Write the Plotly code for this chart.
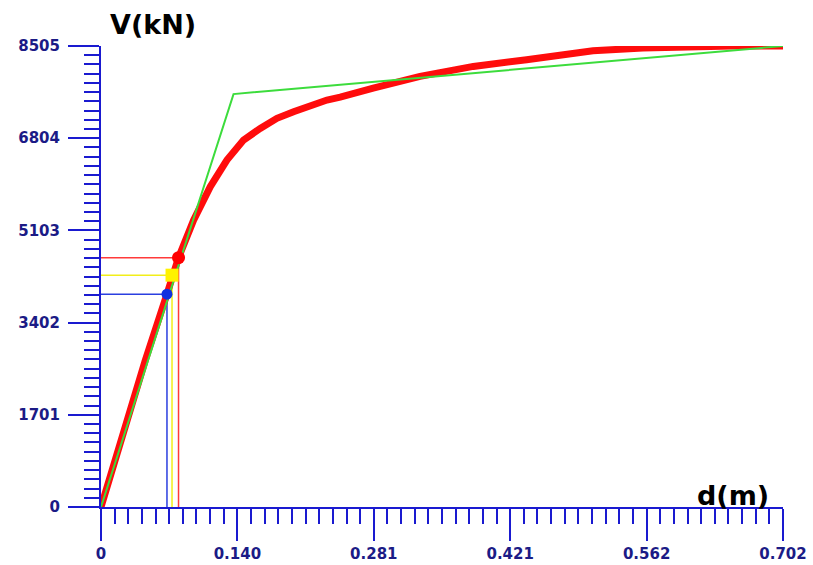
import plotly.graph_objects as go

# Pushover (capacity) curve: displacement d (m) vs base shear V (kN)
curve_d = [0.0, 0.0281, 0.0456, 0.0679, 0.0798, 0.0953, 0.1124, 0.1296, 0.1467,
           0.1639, 0.1811, 0.1982, 0.2154, 0.2326, 0.2462, 0.2668, 0.2802,
           0.3284, 0.3832, 0.4381, 0.4930, 0.5064, 0.5578, 0.6093, 0.6500, 0.702]
curve_v = [0, 1724, 2708, 3926, 4600, 5292, 5907, 6400, 6769,
           6985, 7170, 7292, 7416, 7508, 7560, 7670, 7729,
           7944, 8128, 8252, 8376, 8418, 8468, 8496, 8505, 8505]

# Bilinear idealisation
bilin_d = [0.0, 0.1364, 0.702]
bilin_v = [0, 7618, 8505]

# Reference points (blue, yellow, red)
pt_names = ["blue", "yellow", "red"]
pt_d = [0.0679, 0.0731, 0.0798]
pt_v = [3926, 4277, 4600]

# Axis ticks
y_ticks = [0, 1701, 3402, 5103, 6804, 8505]
y_labels = ["0", "1701", "3402", "5103", "6804", "8505"]
x_ticks = [0.0, 0.1404, 0.2808, 0.4212, 0.5616, 0.702]
x_labels = ["0", "0.140", "0.281", "0.421", "0.562", "0.702"]

guide_colors = {"blue": "#2b3fe0", "yellow": "#f2ee1a", "red": "#ff3a3a"}
dot_colors = {"blue": "#1030e0", "yellow": "#fff200", "red": "#ff0000"}
dot_sizes = {"blue": 11, "yellow": 13, "red": 13}

fig = go.Figure()

# guide lines from the axes to each reference point
for name, d, v in zip(pt_names, pt_d, pt_v):
    fig.add_trace(go.Scatter(x=[0, d, d], y=[v, v, 0], mode="lines",
                             line=dict(color=guide_colors[name], width=1.5),
                             hoverinfo="skip", showlegend=False))

fig.add_trace(go.Scatter(x=curve_d, y=curve_v, mode="lines",
                         line=dict(color="#ff0c0c", width=7),
                         showlegend=False))
fig.add_trace(go.Scatter(x=bilin_d, y=bilin_v, mode="lines",
                         line=dict(color="#3cdc3c", width=2),
                         showlegend=False))

for name, d, v in zip(pt_names, pt_d, pt_v):
    fig.add_trace(go.Scatter(x=[d], y=[v], mode="markers",
                             marker=dict(color=dot_colors[name], size=dot_sizes[name],
                                         symbol="square" if name == "yellow" else "circle"),
                             cliponaxis=False, showlegend=False))

axis_blue = "#1a1ad0"
label_font = dict(family="DejaVu Sans", size=15, color="#1b1b86", weight="bold")

fig.update_xaxes(range=[0, 0.702], tickvals=x_ticks, ticktext=x_labels,
                 automargin=False,
                 showline=True, linecolor=axis_blue, linewidth=2,
                 ticks="outside", ticklen=32, tickwidth=2, tickcolor=axis_blue,
                 ticklabelstandoff=0,
                 minor=dict(dtick=0.01404, tick0=0, ticks="outside", ticklen=15,
                            tickwidth=2, tickcolor=axis_blue, showgrid=False),
                 showgrid=False, zeroline=False, tickfont=label_font)
fig.update_yaxes(range=[0, 8505], tickvals=y_ticks, ticktext=y_labels,
                 automargin=False,
                 showline=True, linecolor=axis_blue, linewidth=2,
                 ticks="outside", ticklen=31, tickwidth=2, tickcolor=axis_blue,
                 ticklabelstandoff=5,
                 minor=dict(dtick=170.1, tick0=0, ticks="outside", ticklen=15,
                            tickwidth=2, tickcolor=axis_blue, showgrid=False),
                 showgrid=False, zeroline=False, tickfont=label_font)

title_font = dict(family="DejaVu Sans", size=27, color="#000000", weight="bold")
fig.add_annotation(text="V(kN)", xref="paper", yref="paper", x=0.076, y=1.046,
                   xanchor="center", yanchor="middle", showarrow=False, font=title_font)
fig.add_annotation(text="d(m)", xref="paper", yref="paper", x=0.927, y=0.024,
                   xanchor="center", yanchor="middle", showarrow=False, font=title_font)

fig.update_layout(width=813, height=565,
                  margin=dict(l=101, r=30, t=46, b=58),
                  paper_bgcolor="white", plot_bgcolor="white")

fig.write_html("out.html")
